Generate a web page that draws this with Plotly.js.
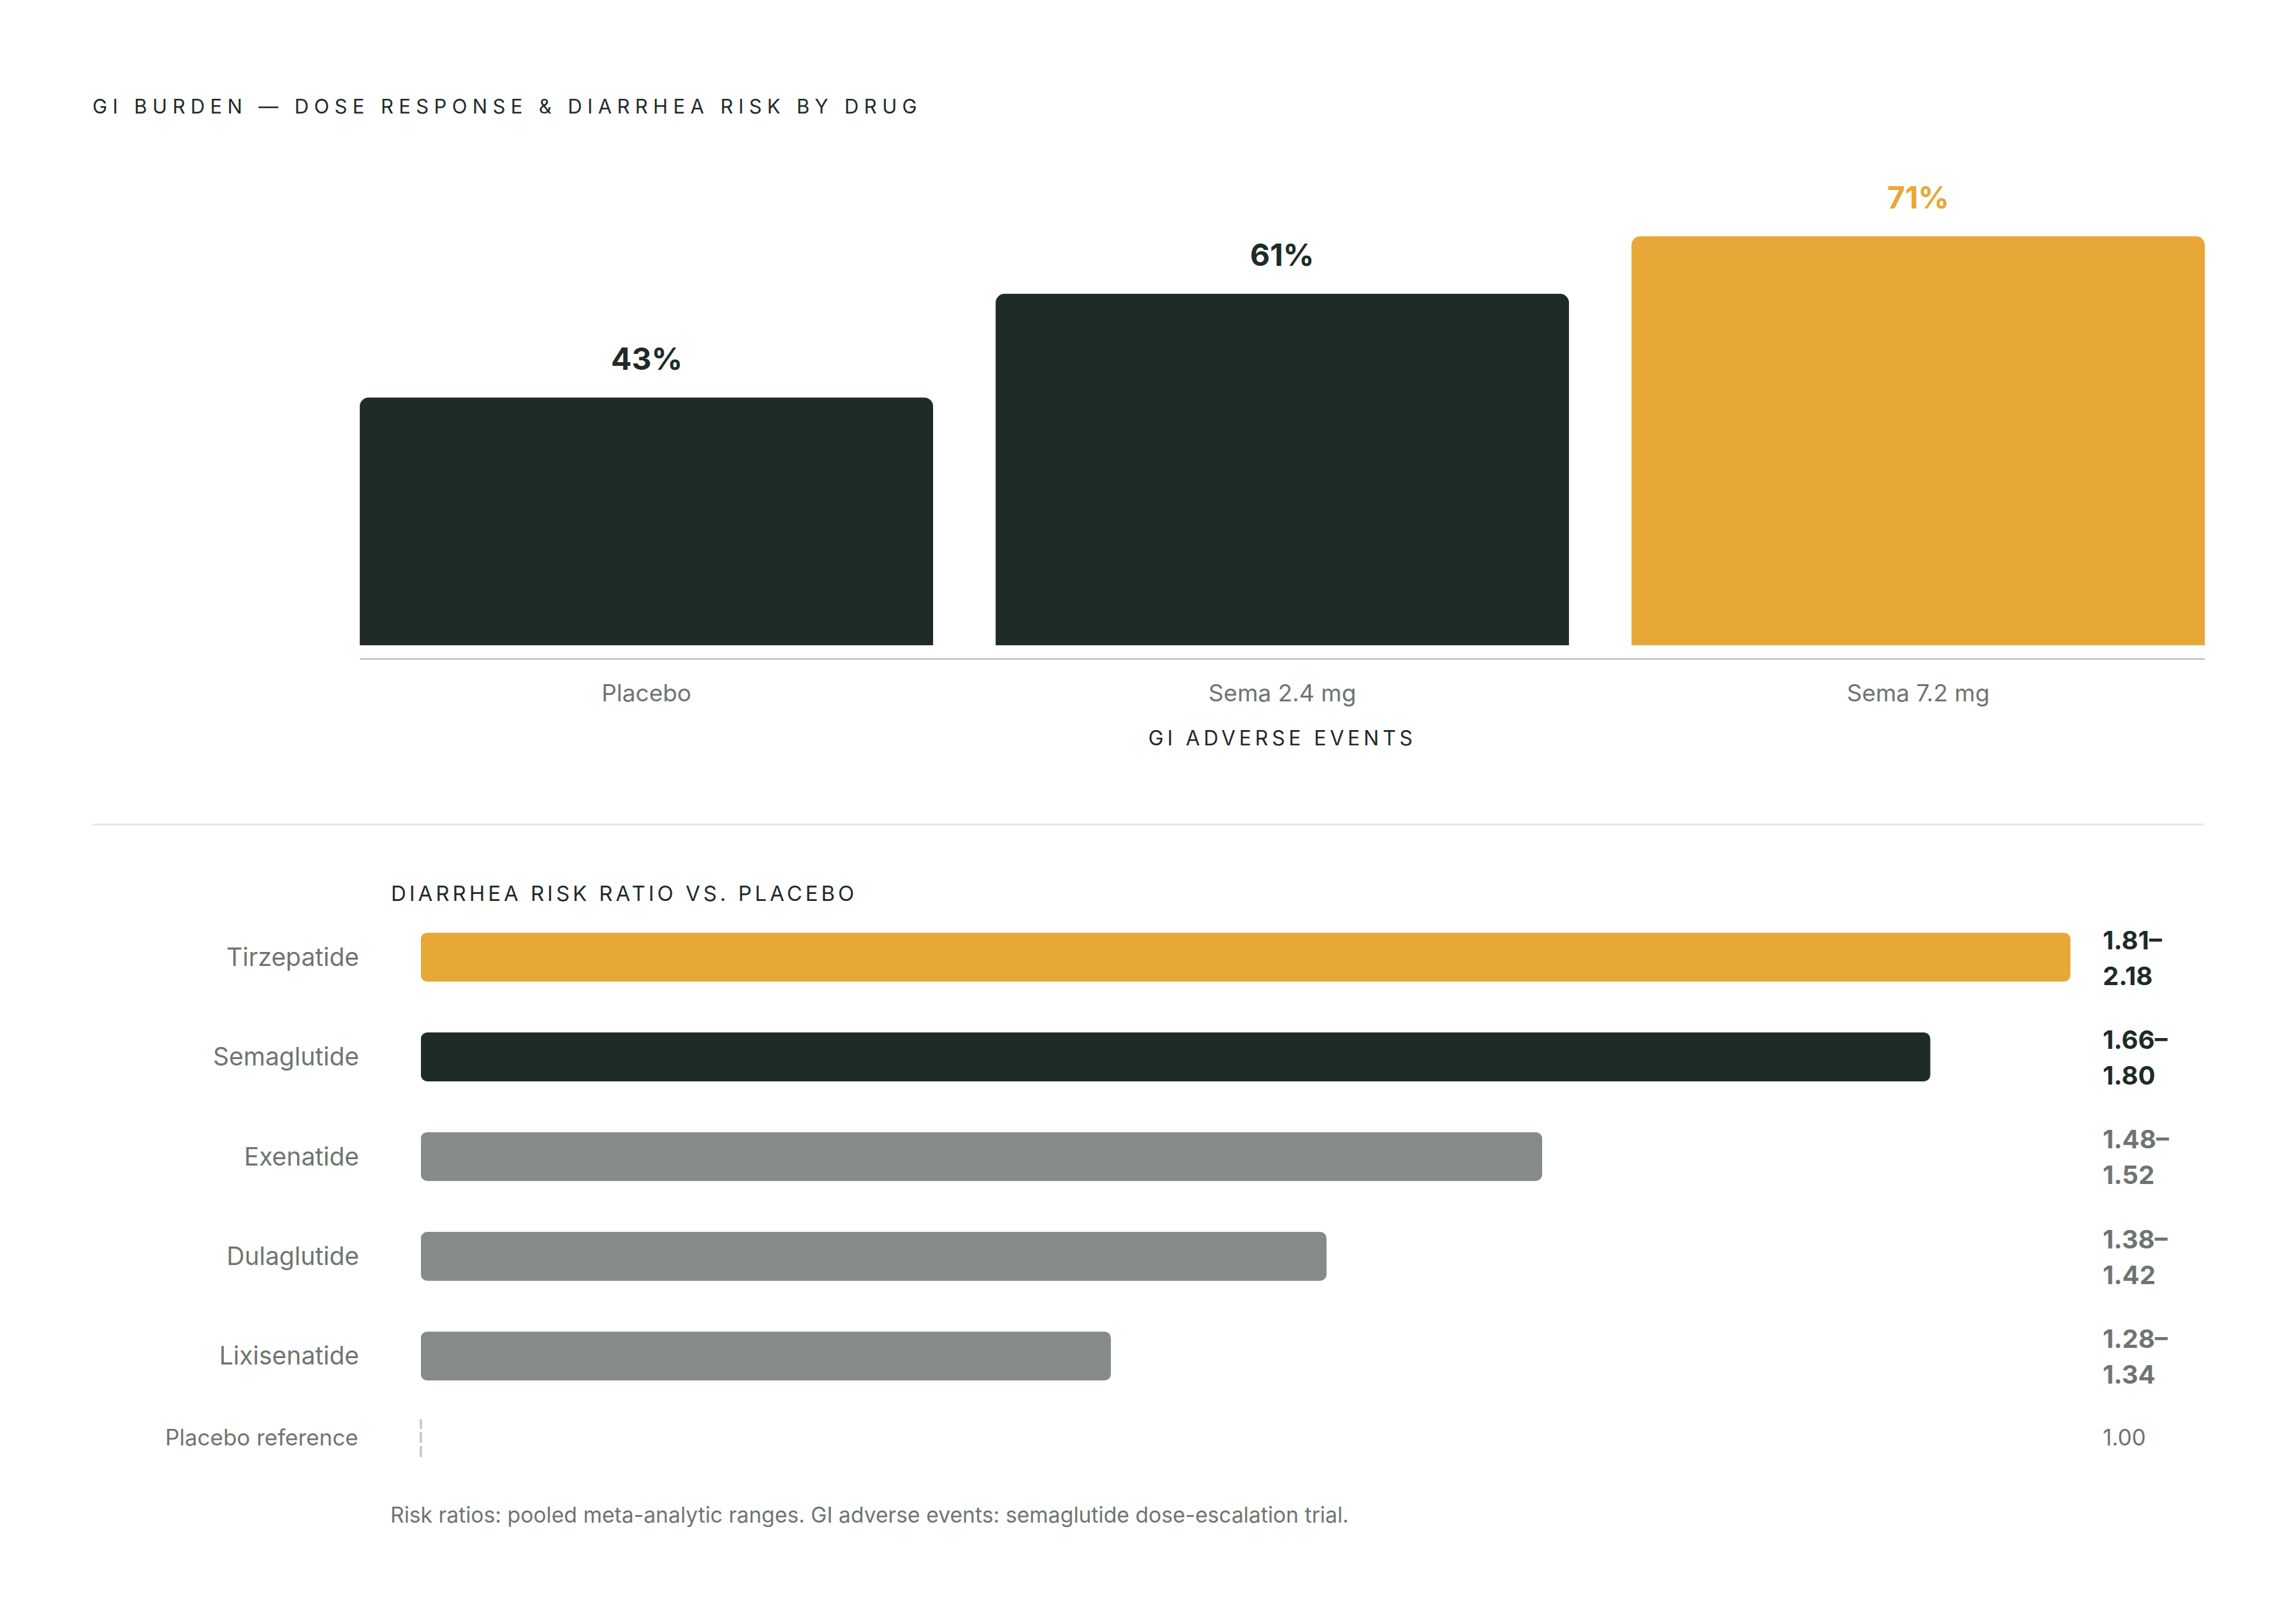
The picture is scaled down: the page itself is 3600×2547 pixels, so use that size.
<!DOCTYPE html>
<html>
<head>
<meta charset="utf-8">
<script src="https://cdn.plot.ly/plotly-3.0.1.min.js"></script>
<style>
  html, body { margin: 0; padding: 0; background: #ffffff; }
  #plot { width: 3600px; height: 2547px; }
</style>
</head>
<body>
<div id="plot"></div>
<script>
// GI adverse events by dose (percent of patients)
var doseCats = ['Placebo', 'Sema 2.4 mg', 'Sema 7.2 mg'];
var giEvents = [43, 61, 71];

// Diarrhea risk ratio vs placebo (pooled ranges)
var drugs = ['Tirzepatide', 'Semaglutide', 'Exenatide', 'Dulaglutide', 'Lixisenatide'];
var rrLow = [1.81, 1.66, 1.48, 1.38, 1.28];
var rrHigh = [2.18, 1.80, 1.52, 1.42, 1.34];
// where each bar ends
var rrBar = [1.725, 1.66, 1.48, 1.38, 1.28];
var rrStart = 0.96;
var placeboRR = '1.00';

var DARK = '#1e2b27';
var GOLD = '#e7a838';
var GREY = '#848b88';
var MUTED = '#6e7570';
var FONT = 'Inter, "DejaVu Sans", sans-serif';

var doseColors = [DARK, DARK, GOLD];
var drugColors = [GOLD, DARK, GREY, GREY, GREY];
var labelColors = [DARK, DARK, MUTED, MUTED, MUTED];

var trace1 = {
  type: 'bar',
  x: doseCats,
  y: giEvents,
  xaxis: 'x',
  yaxis: 'y',
  marker: { color: doseColors, cornerradius: 14 },
  hoverinfo: 'skip'
};

var trace2 = {
  type: 'bar',
  orientation: 'h',
  y: drugs,
  x: rrBar.map(function (v) { return v - rrStart; }),
  base: rrStart,
  width: 0.49,
  xaxis: 'x2',
  yaxis: 'y2',
  marker: { color: drugColors, cornerradius: 10 },
  hoverinfo: 'skip'
};

var annotations = [];

// value labels over the dose bars
doseCats.forEach(function (c, i) {
  annotations.push({
    xref: 'x', yref: 'y', x: c, y: giEvents[i],
    text: '<b>' + giEvents[i] + '%</b>',
    showarrow: false, yanchor: 'middle', yshift: 61,
    font: { family: FONT, size: 48, color: i === 2 ? GOLD : DARK }
  });
});

// range labels to the right of the risk bars, two lines each
drugs.forEach(function (d, i) {
  var lines = [rrLow[i].toFixed(2) + '–', rrHigh[i].toFixed(2)];
  lines.forEach(function (txt, k) {
    annotations.push({
      xref: 'paper', yref: 'y2', x: 0.9153, y: d,
      xanchor: 'left', yanchor: 'middle',
      yshift: k === 0 ? 27 : -29,
      text: '<b>' + txt + '</b>',
      showarrow: false,
      font: { family: FONT, size: 40, color: labelColors[i] }
    });
  });
});

annotations.push({
  xref: 'paper', yref: 'paper', x: 0.9153, y: 0.115,
  xanchor: 'left', yanchor: 'middle', text: placeboRR, showarrow: false,
  font: { family: FONT, size: 35, color: MUTED }
});
annotations.push({
  xref: 'paper', yref: 'paper', x: 0.1567, y: 0.115,
  xanchor: 'right', yanchor: 'middle', text: 'Placebo reference', showarrow: false,
  font: { family: FONT, size: 35, color: MUTED }
});
annotations.push({
  xref: 'paper', yref: 'paper', x: 0.1698, y: 0.4499,
  xanchor: 'left', yanchor: 'middle', text: 'DIARRHEA RISK RATIO VS. PLACEBO', showarrow: false,
  font: { family: FONT, size: 33, color: DARK }
});
annotations.push({
  xref: 'paper', yref: 'paper', x: 0.1695, y: 0.0675,
  xanchor: 'left', yanchor: 'middle',
  text: 'Risk ratios: pooled meta-analytic ranges. GI adverse events: semaglutide dose-escalation trial.',
  showarrow: false,
  font: { family: FONT, size: 33.7, color: MUTED }
});

var layout = {
  width: 3600,
  height: 2547,
  margin: { l: 0, r: 0, t: 0, b: 0 },
  paper_bgcolor: '#ffffff',
  plot_bgcolor: '#ffffff',
  showlegend: false,
  hovermode: false,
  barmode: 'overlay',
  title: {
    text: 'GI BURDEN — DOSE RESPONSE & DIARRHEA RISK BY DRUG',
    xref: 'paper', yref: 'paper',
    x: 0.0403, xanchor: 'left',
    y: 0.9345, yanchor: 'middle',
    font: { family: FONT, size: 31, color: DARK }
  },
  bargap: 0.0984,
  xaxis: {
    domain: [0.1567, 0.9603],
    type: 'category',
    range: [-0.4508, 2.4508],
    showline: true, linecolor: '#c8cccb', linewidth: 3,
    showgrid: false, zeroline: false, ticks: '',
    ticklabelstandoff: 21,
    tickfont: { family: FONT, size: 37, color: MUTED },
    title: {
      text: 'GI ADVERSE EVENTS', standoff: 39,
      font: { family: FONT, size: 32, color: DARK }
    },
    automargin: false
  },
  yaxis: {
    domain: [0.5948, 0.8865],
    range: [-2.21, 80],
    showgrid: false, zeroline: false, showticklabels: false, showline: false,
    automargin: false
  },
  xaxis2: {
    domain: [0.1833, 0.96],
    range: [rrStart, 1.787],
    visible: false
  },
  yaxis2: {
    domain: [0.1343, 0.4413],
    type: 'category',
    categoryarray: drugs,
    range: [4.5, -0.5],
    showgrid: false, zeroline: false, showline: false, ticks: '',
    ticklabelstandoff: 0,
    tickfont: { family: FONT, size: 39, color: MUTED },
    automargin: false
  },
  shapes: [
    {
      type: 'line', xref: 'paper', yref: 'paper',
      x0: 0.0403, x1: 0.96, y0: 0.4923, y1: 0.4923,
      line: { color: '#e6e8e7', width: 3 }
    },
    {
      type: 'line', xref: 'x2 domain', yref: 'paper',
      x0: 0, x1: 0, y0: 0.1029, y1: 0.1260,
      line: { color: '#c9cdcb', width: 4, dash: '17px,5px' }
    }
  ],
  annotations: annotations
};

Plotly.newPlot('plot', [trace1, trace2], layout, { staticPlot: true }).then(function () {
  var spaced = {
    'GI BURDEN — DOSE RESPONSE & DIARRHEA RISK BY DRUG': '0.27em',
    'DIARRHEA RISK RATIO VS. PLACEBO': '0.15em',
    'GI ADVERSE EVENTS': '0.18em'
  };
  document.querySelectorAll('#plot text').forEach(function (t) {
    var sp = spaced[t.textContent];
    if (!sp) return;
    var w0 = t.getBBox().width;
    t.style.letterSpacing = sp;
    var w1 = t.getBBox().width;
    // annotations are drawn centred, so keep their left edge in place
    if (t.classList.contains('annotation-text')) {
      var x = parseFloat(t.getAttribute('x')) || 0;
      t.setAttribute('x', x + (w1 - w0) / 2);
    }
  });
});
</script>
</body>
</html>
